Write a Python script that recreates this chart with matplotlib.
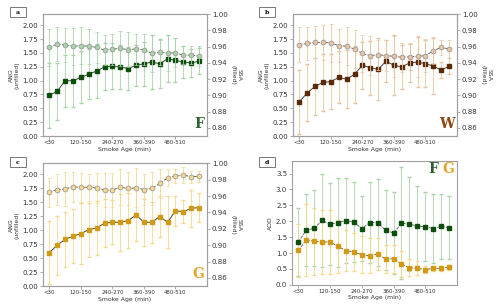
import matplotlib
matplotlib.use('Agg')
import matplotlib.pyplot as plt
from matplotlib.patches import Rectangle
import numpy as np

# smoke age bins (30 min each), tick every 4th bin
ages = np.arange(20)
tick_pos = [0, 4, 8, 12, 16]
tick_lab = ['<30', '120-150', '240-270', '360-390', '480-510']

# panel a (F)
ang_f = [1.60, 1.66, 1.64, 1.62, 1.63, 1.62, 1.60, 1.55, 1.57, 1.58, 1.56, 1.57, 1.56, 1.49, 1.51, 1.50, 1.50, 1.46, 1.46, 1.44]
ang_f_err = [0.33, 0.30, 0.31, 0.33, 0.33, 0.32, 0.28, 0.27, 0.28, 0.32, 0.32, 0.28, 0.28, 0.33, 0.22, 0.32, 0.26, 0.16, 0.16, 0.18]
ssa_f = [0.900, 0.905, 0.918, 0.918, 0.922, 0.926, 0.930, 0.935, 0.936, 0.935, 0.933, 0.937, 0.939, 0.941, 0.939, 0.945, 0.943, 0.941, 0.940, 0.942]
ssa_f_err = [0.040, 0.035, 0.032, 0.032, 0.032, 0.031, 0.033, 0.029, 0.028, 0.027, 0.026, 0.025, 0.027, 0.033, 0.030, 0.029, 0.027, 0.020, 0.017, 0.016]

# panel b (W)
ang_w = [1.65, 1.67, 1.69, 1.69, 1.68, 1.63, 1.62, 1.57, 1.49, 1.45, 1.47, 1.45, 1.44, 1.42, 1.43, 1.44, 1.45, 1.54, 1.60, 1.57]
ang_w_err = [0.32, 0.30, 0.29, 0.31, 0.35, 0.30, 0.34, 0.35, 0.33, 0.35, 0.27, 0.28, 0.37, 0.26, 0.24, 0.37, 0.30, 0.24, 0.14, 0.16]
ssa_w = [0.892, 0.903, 0.911, 0.916, 0.917, 0.922, 0.920, 0.926, 0.937, 0.934, 0.932, 0.942, 0.937, 0.935, 0.940, 0.941, 0.939, 0.936, 0.931, 0.936]
ssa_w_err = [0.039, 0.035, 0.035, 0.035, 0.034, 0.032, 0.036, 0.035, 0.029, 0.033, 0.038, 0.026, 0.037, 0.027, 0.023, 0.031, 0.029, 0.034, 0.010, 0.010]

# panel c (G)
ang_g = [1.68, 1.73, 1.74, 1.78, 1.77, 1.77, 1.76, 1.72, 1.72, 1.77, 1.75, 1.76, 1.73, 1.75, 1.84, 1.94, 1.97, 1.99, 1.96, 1.97]
ang_g_err = [0.26, 0.27, 0.31, 0.27, 0.26, 0.24, 0.27, 0.30, 0.31, 0.32, 0.30, 0.35, 0.27, 0.30, 0.26, 0.15, 0.12, 0.14, 0.11, 0.10]
ssa_g = [0.891, 0.900, 0.907, 0.911, 0.914, 0.919, 0.921, 0.927, 0.928, 0.928, 0.930, 0.937, 0.928, 0.928, 0.935, 0.928, 0.942, 0.941, 0.945, 0.946]
ssa_g_err = [0.039, 0.036, 0.034, 0.033, 0.037, 0.033, 0.033, 0.029, 0.027, 0.035, 0.034, 0.032, 0.029, 0.025, 0.025, 0.032, 0.018, 0.014, 0.023, 0.018]

# panel d (AOD)
aod_f = [1.35, 1.72, 1.78, 2.03, 1.91, 1.96, 2.02, 1.97, 1.77, 1.96, 1.96, 1.72, 1.63, 1.94, 1.91, 1.85, 1.83, 1.77, 1.84, 1.80]
aod_f_err = [1.06, 1.14, 1.20, 1.47, 1.28, 1.40, 1.34, 1.25, 1.03, 1.28, 1.37, 1.26, 1.28, 1.77, 1.47, 1.27, 1.08, 1.09, 1.03, 1.00]
aod_g = [1.09, 1.41, 1.37, 1.35, 1.35, 1.21, 1.08, 1.03, 0.95, 0.92, 0.97, 0.81, 0.82, 0.66, 0.54, 0.52, 0.48, 0.52, 0.52, 0.56]
aod_g_err = [0.83, 1.12, 1.06, 1.01, 1.01, 0.83, 0.65, 0.60, 0.58, 0.55, 0.50, 0.45, 0.45, 0.40, 0.26, 0.22, 0.10, 0.08, 0.08, 0.08]

green_d, green_l, green_t = '#0b4f0b', '#a8d4a8', '#2f5f2f'
brown_d, brown_l, brown_t = '#5a2a05', '#e8c4a0', '#8b4513'
gold_d, gold_l, gold_t = '#d29a10', '#f5d88a', '#e0a526'
spine_c = '#a0a0a0'
yfs = 5.0   # y tick labels
xfs = 3.9   # x tick labels
lfs = 4.4   # axis labels

fig = plt.figure(figsize=(5, 3.07), dpi=100)


def style(ax):
    for s in ax.spines.values():
        s.set_color(spine_c)
        s.set_linewidth(0.8)
    ax.tick_params(axis='y', labelsize=yfs, length=2, width=0.6, color=spine_c, pad=1.5, labelcolor='#333333')
    ax.tick_params(axis='x', labelsize=xfs, length=2, width=0.6, color=spine_c, pad=1.0, labelcolor='#333333')


def letter_box(x, y, t):
    # x, y = top-left corner in pixels
    fig.add_artist(Rectangle((x / 500, 1 - (y + 10) / 307), 16 / 500, 10 / 307,
                             transform=fig.transFigure, fc='white', ec='#777777', lw=0.7))
    fig.text((x + 8) / 500, 1 - (y + 5) / 307, t, fontsize=4.5, family='DejaVu Serif',
             weight='bold', ha='center', va='center')


def ang_ssa_panel(rect, ang, ang_err, ssa, ssa_err, dark, light, tcol, letter):
    ax = fig.add_axes(rect)
    ax2 = ax.twinx()
    ax.set_zorder(ax2.get_zorder() + 1)
    ax.patch.set_visible(False)
    ax2.errorbar(ages, ssa, yerr=ssa_err, fmt='s-', color='#444444', lw=0.7, ms=3,
                 mfc=dark, mec=dark, ecolor=light, elinewidth=0.6, capsize=1.5)
    ax.errorbar(ages, ang, yerr=ang_err, fmt='o--', color='#555555', lw=0.6, ms=3.5,
                mfc=light, mec='#909090', mew=0.5, ecolor=light, elinewidth=0.6, capsize=1.5)
    ax.set_ylim(0, 2.2)
    ax.set_yticks(np.arange(0, 2.01, 0.25))
    ax.set_yticklabels(['%.2f' % v for v in np.arange(0, 2.01, 0.25)])
    ax2.set_ylim(0.85, 1.0)
    ax2.set_yticks(np.arange(0.86, 1.001, 0.02))
    ax2.set_yticklabels(['%.2f' % v for v in np.arange(0.86, 1.001, 0.02)])
    ax.set_xlim(-0.8, 20.0)
    ax.set_xticks(tick_pos)
    ax.set_xticklabels(tick_lab)
    style(ax)
    style(ax2)
    ax.set_ylabel('ANG\n(unfilled)', fontsize=lfs, labelpad=2, color='#333333')
    ax2.set_ylabel('SSA\n(filled)', fontsize=lfs, rotation=270, labelpad=10, color='#333333')
    ax.set_xlabel('Smoke Age (min)', fontsize=lfs, labelpad=1, color='#333333')
    ax.text(0.985, 0.04, letter, transform=ax.transAxes, ha='right', va='bottom',
            fontsize=10, family='DejaVu Serif', weight='bold', color=tcol)
    return ax


ang_ssa_panel([0.086, 0.557, 0.328, 0.397], ang_f, ang_f_err, ssa_f, ssa_f_err,
              green_d, green_l, green_t, 'F')
ang_ssa_panel([0.586, 0.557, 0.328, 0.397], ang_w, ang_w_err, ssa_w, ssa_w_err,
              brown_d, brown_l, brown_t, 'W')
ang_ssa_panel([0.086, 0.068, 0.328, 0.400], ang_g, ang_g_err, ssa_g, ssa_g_err,
              gold_d, gold_l, gold_t, 'G')

# panel d
axd = fig.add_axes([0.584, 0.072, 0.330, 0.404])
axd.errorbar(ages, aod_f, yerr=aod_f_err, fmt='s--', color='#555555', lw=0.6, ms=3,
             mfc=green_d, mec=green_d, ecolor=green_l, elinewidth=0.6, capsize=1.5)
axd.errorbar(ages, aod_g, yerr=aod_g_err, fmt='s--', color='#555555', lw=0.6, ms=3,
             mfc=gold_d, mec=gold_d, ecolor=gold_l, elinewidth=0.6, capsize=1.5)
axd.set_ylim(0, 3.9)
axd.set_yticks(np.arange(0, 3.51, 0.5))
axd.set_xlim(-0.8, 20.0)
axd.set_xticks(tick_pos)
axd.set_xticklabels(tick_lab)
style(axd)
axd.set_ylabel('AOD', fontsize=lfs, labelpad=2, color='#333333')
axd.set_xlabel('Smoke Age (min)', fontsize=lfs, labelpad=1, color='#333333')
axd.text(0.855, 0.935, 'F', transform=axd.transAxes, ha='center', va='center',
         fontsize=10, family='DejaVu Serif', weight='bold', color=green_t)
axd.text(0.945, 0.935, 'G', transform=axd.transAxes, ha='center', va='center',
         fontsize=10, family='DejaVu Serif', weight='bold', color=gold_t)

letter_box(10, 7, 'a')
letter_box(259, 7, 'b')
letter_box(10, 157, 'c')
letter_box(259, 157, 'd')

fig.savefig('out.png', dpi=100)
